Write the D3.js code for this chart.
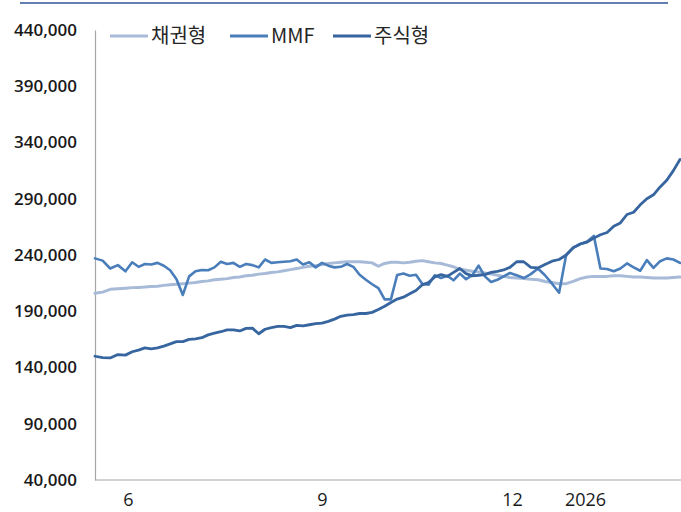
<!DOCTYPE html>
<html>
<head>
<meta charset="utf-8">
<script src="https://cdn.jsdelivr.net/npm/d3@7/dist/d3.min.js"></script>
<style>
  body { margin: 0; background: #fff; }
  svg { display: block; }
</style>
</head>
<body>
<div id="chart"></div>
<script>
// series names / legend
const seriesNames = ['채권형', 'MMF', '주식형'];

// one reading every 3 calendar days, starting 2025-05-19
const startDate = new Date(2025, 4, 19);
const stepDays = 3;

const bondValues = [
  206000, 207000, 209500, 210000, 210500, 211000, 211200, 211500, 212000, 212300,
  213000, 213500, 214000, 214500, 215000, 215500, 216500, 217000, 218000, 218500,
  219000, 220000, 220500, 221500, 222000, 223000, 223500, 224500, 225000, 226000,
  227000, 228000, 229000, 230000, 230500, 231500, 232500, 233000, 233500, 234000,
  234000, 234000, 233500, 233000, 230000, 232500, 233500, 233500, 233000, 233500,
  234500, 235000, 234000, 233000, 232500, 231000, 229500, 227500, 226500, 225500,
  225000, 224000, 223000, 222000, 221000, 220000, 219500, 219000, 218500, 218000,
  216500, 215500, 214500, 214500, 216500, 219000, 220500, 221000, 221000, 221000,
  221500, 221500, 221000, 220500, 220500, 220000, 219500, 219500, 219500, 220000,
  220500
];

const mmfValues = [
  237000, 235000, 228000, 231000, 225500, 233500, 229500, 232000, 231500, 233000,
  230500, 226500, 218500, 204500, 221000, 225500, 226700, 226500, 229000, 234000,
  232000, 233000, 229500, 232000, 231000, 229000, 236000, 233000, 233500, 234000,
  234500, 236000, 231500, 233500, 229000, 233000, 230500, 229000, 229500, 232000,
  229500, 222500, 218000, 214000, 210500, 200600, 200600, 222200, 223500, 221500,
  222500, 214500, 213500, 222000, 219500, 221500, 217500, 223500, 218500, 222000,
  230500, 221000, 216000, 218000, 221000, 224000, 222000, 219500, 223000, 228000,
  222000, 214500, 206500, 240000, 246500, 249800, 252000, 257000, 228000, 227500,
  225500, 228000, 232500, 229000, 226000, 235500, 228500, 234500, 237000, 236000,
  233000
];

const stockValues = [
  150000, 148700, 148500, 151500, 151000, 154000, 155500, 157500, 156500, 157500,
  159000, 161000, 163000, 163000, 165000, 165500, 166500, 169000, 170500, 171800,
  173500, 173500, 172500, 174800, 175000, 170000, 174000, 175500, 176500, 176500,
  175500, 177500, 177000, 178000, 179000, 179500, 181000, 183000, 185500, 186500,
  187000, 188000, 188000, 189000, 191500, 194500, 197800, 200800, 202500, 205500,
  208500, 213500, 215500, 220500, 222500, 221000, 224500, 228000, 223500, 221500,
  222000, 222500, 224500, 225500, 226700, 229000, 234000, 234000, 229000, 228500,
  231500, 234500, 236000, 240000, 246500, 249800, 251500, 255000, 258000, 260000,
  265500, 268500, 276000, 278000, 284600, 290000, 293500, 300500, 306500, 315000,
  325000
];

const yTicks = [40000, 90000, 140000, 190000, 240000, 290000, 340000, 390000, 440000];
const xTickDates = [new Date(2025, 5, 1), new Date(2025, 8, 1), new Date(2025, 11, 1), new Date(2026, 0, 1)];
const xTickLabels = ['6', '9', '12', '2026'];

const colors = ['#a7bad8', '#4a7ebb', '#36659f'];

const width = 681, height = 512;

const svg = d3.select('#chart')
  .append('svg')
  .attr('width', width)
  .attr('height', height);

// business-day axis -> piecewise time scale so month labels sit where they should
const x = d3.scaleTime()
  .domain([startDate, new Date(2025, 5, 1), new Date(2025, 8, 1), new Date(2025, 11, 1), new Date(2026, 0, 1), new Date(2026, 1, 13)])
  .range([95, 128, 322, 512, 585, 680]);

const y = d3.scaleLinear()
  .domain([40000, 440000])
  .range([480, 30]);

const dates = bondValues.map((v, i) => d3.timeDay.offset(startDate, i * stepDays));

// top rule
svg.append('line')
  .attr('x1', 20).attr('x2', 668)
  .attr('y1', 3).attr('y2', 3)
  .attr('stroke', '#2f5597')
  .attr('stroke-width', 1.5);

// y axis
const yAxis = svg.append('g')
  .attr('transform', 'translate(95,0)')
  .call(d3.axisLeft(y).tickValues(yTicks).tickSize(0).tickPadding(18).tickFormat(d3.format(',')));
yAxis.select('.domain').attr('stroke', '#a6a6a6').attr('stroke-width', 1.2);
yAxis.selectAll('text')
  .attr('font-family', '"Open Sans", "Liberation Sans", sans-serif')
  .attr('font-weight', 600)
  .attr('font-size', 17)
  .attr('fill', '#1a1a1a');

// x axis
const xAxis = svg.append('g')
  .attr('transform', 'translate(0,480)')
  .call(d3.axisBottom(x).tickValues(xTickDates).tickSize(0).tickPadding(13)
    .tickFormat((d, i) => xTickLabels[i]));
xAxis.select('.domain').attr('d', 'M95,0H681').attr('stroke', '#a6a6a6').attr('stroke-width', 1.2);
xAxis.selectAll('text')
  .attr('font-family', '"Open Sans", "Liberation Sans", sans-serif')
  .attr('font-size', 18)
  .attr('fill', '#1a1a1a');

// lines
const line = d3.line()
  .x((d, i) => x(dates[i]))
  .y(d => y(d));

const allSeries = [bondValues, mmfValues, stockValues];
const widths = [3, 2.6, 2.8];

svg.append('g')
  .selectAll('path')
  .data(allSeries)
  .enter().append('path')
  .attr('d', d => line(d))
  .attr('fill', 'none')
  .attr('stroke', (d, i) => colors[i])
  .attr('stroke-width', (d, i) => widths[i])
  .attr('stroke-linejoin', 'round')
  .attr('stroke-linecap', 'round');

// legend
const legendX = [110, 230, 333];
const legend = svg.append('g')
  .selectAll('g')
  .data(seriesNames)
  .enter().append('g')
  .attr('transform', (d, i) => `translate(${legendX[i]},36)`);

legend.append('line')
  .attr('x1', 0).attr('x2', 38)
  .attr('y1', 0).attr('y2', 0)
  .attr('stroke', (d, i) => colors[i])
  .attr('stroke-width', 3);

legend.append('text')
  .attr('x', 41)
  .attr('y', 0)
  .attr('dy', '0.35em')
  .attr('font-family', '"Noto Sans CJK KR", sans-serif')
  .attr('font-size', 20)
  .attr('fill', '#262626')
  .text(d => d);
</script>
</body>
</html>
